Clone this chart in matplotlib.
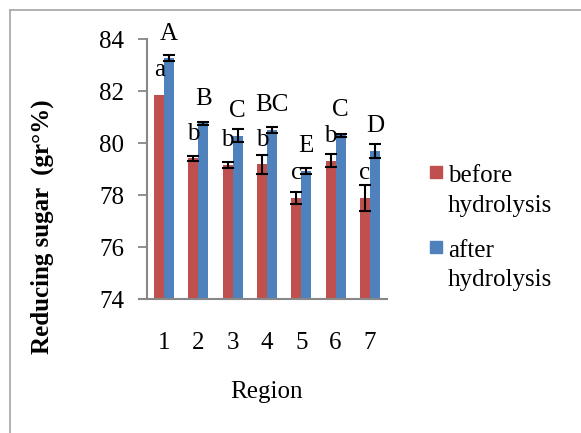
import numpy as np
import matplotlib.pyplot as plt
from matplotlib.patches import Rectangle
from matplotlib.lines import Line2D

plt.rcParams['font.family'] = ['Liberation Serif', 'DejaVu Serif']

# data
regions = ['1', '2', '3', '4', '5', '6', '7']
before = [81.85, 79.41, 79.15, 79.18, 77.88, 79.32, 77.88]
before_err = [np.nan, 0.10, 0.11, 0.37, 0.22, 0.24, 0.50]  # no bar drawn for region 1
after = [83.26, 80.76, 80.28, 80.50, 78.92, 80.30, 79.70]
after_err = [0.12, 0.05, 0.24, 0.13, 0.10, 0.06, 0.26]
before_letters = ['a', 'b', 'b', 'b', 'c', 'b', 'c']
after_letters = ['A', 'B', 'C', 'BC', 'E', 'C', 'D']

red = '#C0504D'
blue = '#4F81BD'
grey = '#878787'
fs = 18

fig = plt.figure(figsize=(5.81, 4.33), dpi=100)
ax = fig.add_axes([147 / 581, 1 - 299 / 433, 240 / 581, 260 / 433])

x = np.arange(len(regions))
w = 0.29
ebar = dict(ecolor='black', elinewidth=1.5, capsize=4, capthick=1.5)
ax.bar(x - w / 2, before, w, color=red)
ax.bar(x + w / 2, after, w, color=blue)
ax.errorbar(x - w / 2, before, yerr=before_err, fmt='none', **ebar)
ax.errorbar(x + w / 2, after, yerr=after_err, fmt='none', **ebar)

for i in range(len(regions)):
    ax.text(x[i] - w / 2, before[i] + 0.72, before_letters[i], ha='center',
            va='baseline', fontsize=fs)
    ax.text(x[i] + w / 2, after[i] + 0.72, after_letters[i], ha='center',
            va='baseline', fontsize=fs)

ax.set_xlim(-0.5, len(regions) - 0.5)
ax.set_ylim(74, 84)
ax.set_yticks([74, 76, 78, 80, 82, 84])
ax.set_xticks(x)
ax.set_xticklabels(regions)
ax.tick_params(axis='y', length=6.5, width=1.3, color=grey, pad=10, labelsize=fs)
ax.tick_params(axis='x', length=0, pad=24, labelsize=fs)
for s in ['top', 'right']:
    ax.spines[s].set_visible(False)
for s in ['left', 'bottom']:
    ax.spines[s].set_color(grey)
    ax.spines[s].set_linewidth(1.5)
ax.spines['bottom'].set_bounds(-0.5 - 8 / 34.3, len(regions) - 0.5)

fig.text(42.6 / 581, 1 - 227 / 433, 'Reducing sugar  (gr°%)', rotation=90,
         ha='center', va='center', fontsize=fs, fontweight='bold')
fig.text(266 / 581, 1 - 392 / 433, 'Region', ha='center', va='center', fontsize=fs)

# legend
fig.add_artist(Rectangle((430 / 581, 1 - 178 / 433), 12 / 581, 12 / 433,
                         transform=fig.transFigure, color=red))
fig.text(448 / 581, 1 - 181.7 / 433, 'before', va='baseline', fontsize=fs)
fig.text(448 / 581, 1 - 211.7 / 433, 'hydrolysis', va='baseline', fontsize=fs)
fig.add_artist(Rectangle((430 / 581, 1 - 253 / 433), 12 / 581, 12 / 433,
                         transform=fig.transFigure, color=blue))
fig.text(448 / 581, 1 - 256.7 / 433, 'after', va='baseline', fontsize=fs)
fig.text(448 / 581, 1 - 285.7 / 433, 'hydrolysis', va='baseline', fontsize=fs)

# chart border
fig.add_artist(Line2D([10 / 581, 1], [1 - 10 / 433, 1 - 10 / 433],
                      transform=fig.transFigure, color='#a6a6a6', lw=1.2))
fig.add_artist(Line2D([10 / 581, 10 / 581], [0, 1 - 10 / 433],
                      transform=fig.transFigure, color='#a6a6a6', lw=1.2))

fig.savefig('out.png', dpi=100)
